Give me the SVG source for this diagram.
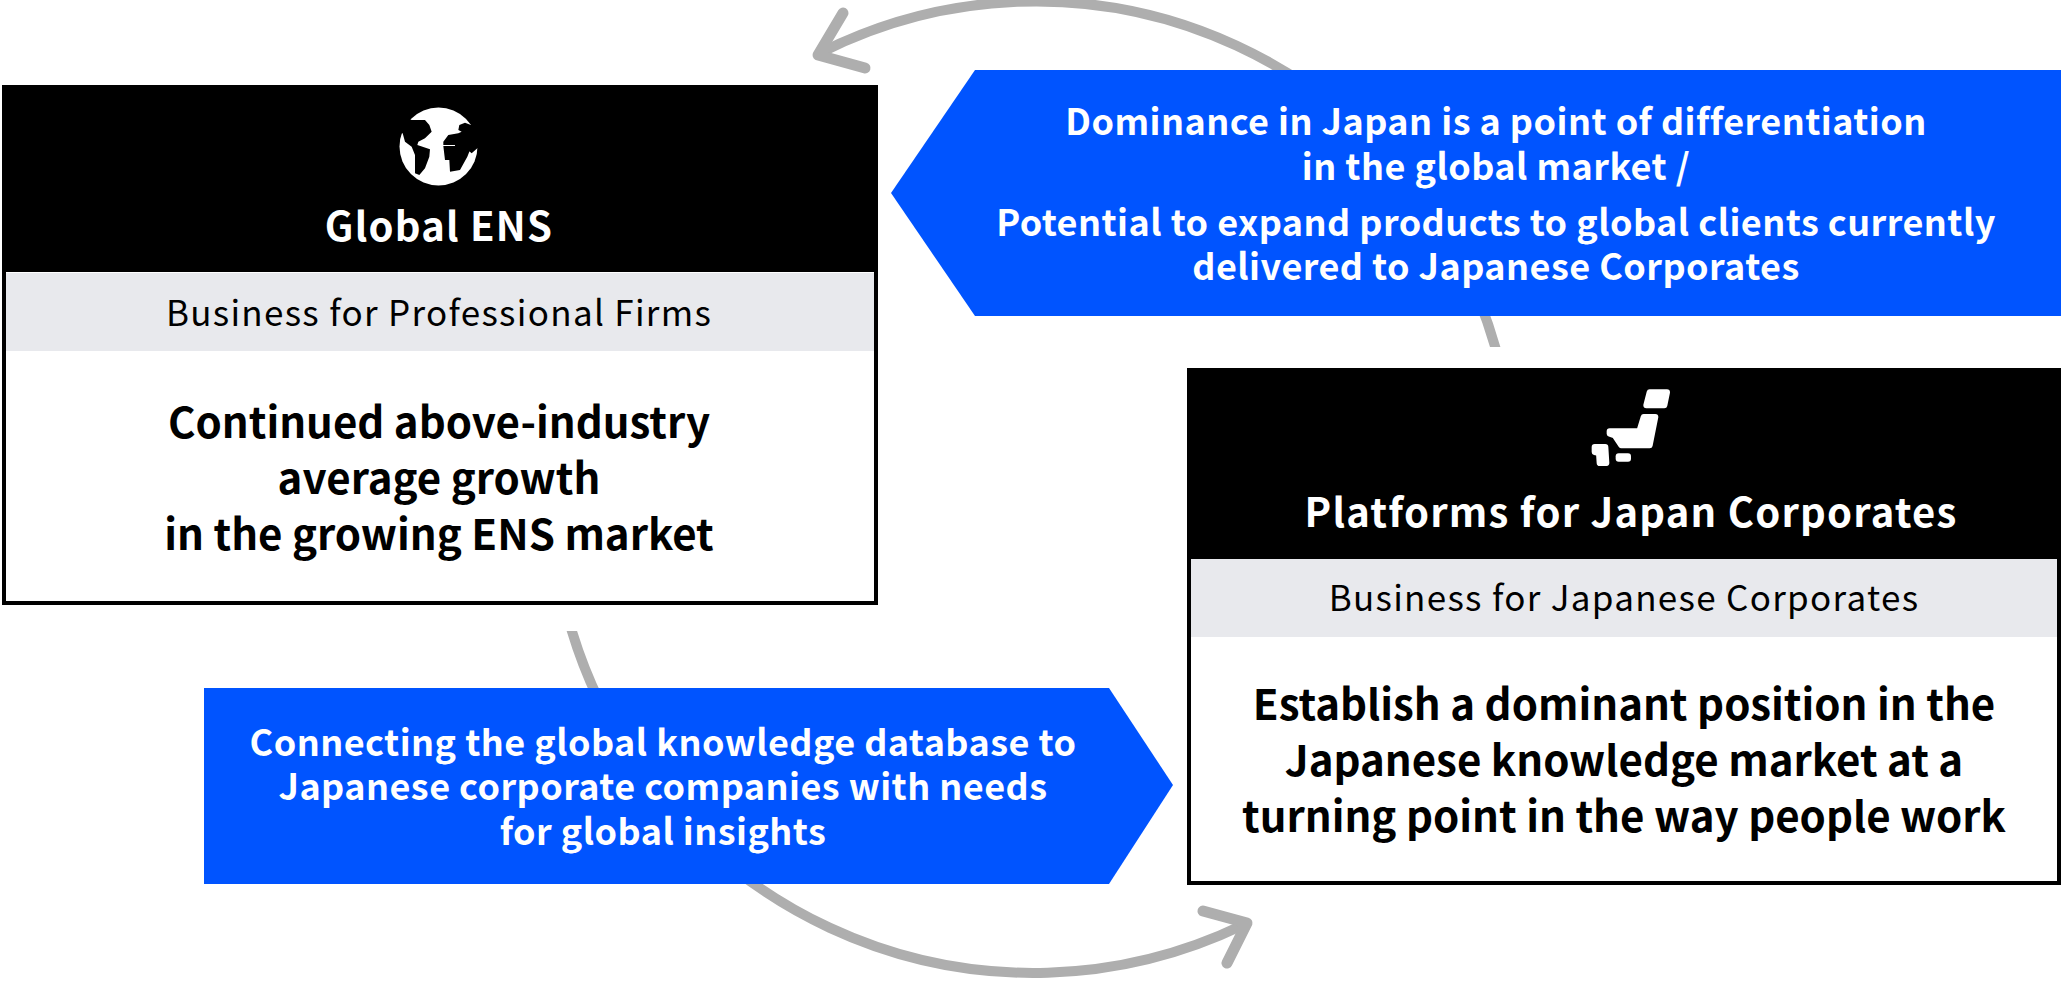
<svg xmlns="http://www.w3.org/2000/svg" width="2061" height="981" viewBox="0 0 2061 981">
<style>
text{font-family:"Noto Sans CJK JP","Noto Sans",sans-serif;text-anchor:middle}
.hd{font-size:40px;font-weight:700;fill:#fff;letter-spacing:1.2px}
.sub{font-size:35px;font-weight:400;fill:#000;letter-spacing:1.3px}
.body{font-size:42px;font-weight:700;fill:#000}
.lab{font-size:36px;font-weight:700;fill:#fff;letter-spacing:.45px}
.arc{fill:none;stroke:#aeaeae;stroke-width:10}
.head{fill:none;stroke:#aeaeae;stroke-width:11;stroke-linecap:round;stroke-linejoin:round}
.frame{fill:#fff;stroke:#000;stroke-width:4}
.band{fill:#e8e9ed}
.flow{fill:#0054ff}
.jp{fill:#fff;stroke:#fff;stroke-width:18;stroke-linejoin:round}
</style>
<defs>
<clipPath id="ct"><rect x="700" y="0" width="900" height="347"/></clipPath>
<clipPath id="cb"><rect x="500" y="631" width="800" height="350"/></clipPath>
</defs>
<g id="connectors">
<path class="arc" clip-path="url(#ct)" d="M822 52A478 478 0 0 1 1500 365"/>
<path class="head" d="M843 13L818 55L865 68"/>
<path class="arc" clip-path="url(#cb)" d="M566 610A482.500 482.500 0 0 0 1243 925"/>
<path class="head" d="M1203 911L1247 923L1227 963"/>
</g>
<g id="node-global">
<rect class="frame" x="4" y="87" width="872" height="516"/>
<rect x="2" y="85" width="876" height="187"/>
<rect class="band" x="6" y="273" width="868" height="78"/>
<circle cx="438.500" cy="146.500" r="39" fill="#fff"/>
<g transform="translate(390 100) scale(.3333)" fill="#000">
<path d="M65 60H105L118 75L125 95L105 115L85 125L82 135L120 148L118 170L105 205L88 225L75 220L75 165L65 140L45 125L38 100L15 100L20 40Z"/>
<path d="M243 75L225 68L208 75L205 90L215 95L205 100L175 105L160 125V135H195V138H160L165 180H178L180 215L210 210L232 170L240 150L222 140L245 160L262 145L280 140L280 60Z"/>
</g>
<text class="hd" x="439" y="241">Global ENS</text>
<text class="sub" x="439" y="326">Business for Professional Firms</text>
<text class="body" x="439" y="438">Continued above-industry</text>
<text class="body" x="439" y="494">average growth</text>
<text class="body" x="439" y="550">in the growing ENS market</text>
</g>
<g id="node-japan">
<rect class="frame" x="1189" y="370" width="870" height="513"/>
<rect x="1187" y="368" width="874" height="191"/>
<rect class="band" x="1191" y="559" width="866" height="78"/>
<g transform="translate(1570 370) scale(.3333)">
<path class="jp" d="M239 67H291L283 106H229Z"/>
<path class="jp" d="M221 141H256L239 226H154L134 196L119 191V184H208Z"/>
<path class="jp" d="M74 231H106L109 279H89L87 249L74 246Z"/>
<path class="jp" d="M146 259H174V266H146Z"/>
</g>
<text class="hd" x="1631" y="527">Platforms for Japan Corporates</text>
<text class="sub" x="1624" y="611">Business for Japanese Corporates</text>
<text class="body" x="1624" y="720">Establish a dominant position in the</text>
<text class="body" x="1624" y="776">Japanese knowledge market at a</text>
<text class="body" x="1624" y="832">turning point in the way people work</text>
</g>
<g id="node-flow-top">
<path class="flow" d="M975 70H2061V316H975L891 193Z"/>
<text class="lab" x="1496" y="135">Dominance in Japan is a point of differentiation</text>
<text class="lab" x="1496" y="180">in the global market /</text>
<text class="lab" x="1496" y="236">Potential to expand products to global clients currently</text>
<text class="lab" x="1496" y="280">delivered to Japanese Corporates</text>
</g>
<g id="node-flow-bottom">
<path class="flow" d="M204 688H1109L1173 785L1109 884H204Z"/>
<text class="lab" x="663" y="756">Connecting the global knowledge database to</text>
<text class="lab" x="663" y="800">Japanese corporate companies with needs</text>
<text class="lab" x="663" y="845">for global insights</text>
</g>
</svg>
